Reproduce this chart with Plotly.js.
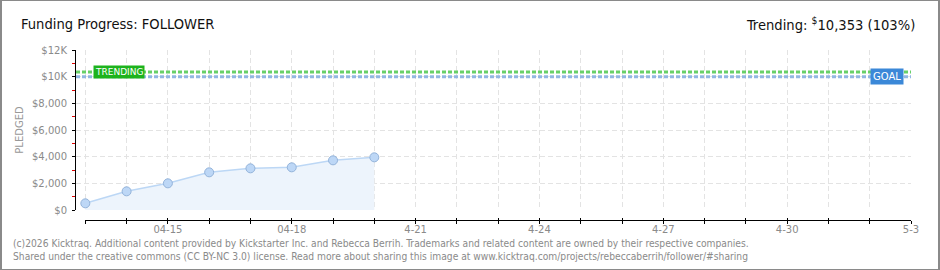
<!DOCTYPE html>
<html>
<head>
<meta charset="utf-8">
<script src="https://cdn.plot.ly/plotly-3.0.1.min.js"></script>
<style>
html,body{margin:0;padding:0;background:#fff;}
#frame{position:absolute;left:0;top:0;width:940px;height:270px;box-sizing:border-box;border:1px solid #8a8a8a;border-left-width:2px;border-right-width:2px;background:#fff;}
#chart{width:936px;height:268px;}
</style>
</head>
<body>
<div id="frame"><div id="chart"></div></div>
<script>
// ---- data ----
const dates = ['2026-04-13','2026-04-14','2026-04-15','2026-04-16','2026-04-17','2026-04-18','2026-04-19','2026-04-20'];
const pledged = [500, 1400, 2000, 2825, 3125, 3200, 3725, 3950];
const goal = 10000;
const trending = 10353;
const trendingPct = 103;
const yTickVals = [0, 2000, 4000, 6000, 8000, 10000, 12000];
const yTickText = ['$0', '$2,000', '$4,000', '$6,000', '$8,000', '$10K', '$12K'];
const xTickVals = ['2026-04-15','2026-04-18','2026-04-21','2026-04-24','2026-04-27','2026-04-30','2026-05-03'];
const xTickText = ['04-15','04-18','4-21','4-24','4-27','4-30','5-3'];
const xStart = '2026-04-13';
const xEnd = '2026-05-03';

const DAY = 86400000;
const FONT = 'DejaVu Sans';
const COND = 'DejaVu Sans Condensed';
const tickFont = {family: FONT, size: 10, color: '#8a8a8a'};

const traces = [
  {
    x: dates, y: pledged, type: 'scatter', mode: 'lines+markers',
    fill: 'tozeroy', fillcolor: '#edf4fc',
    line: {color: '#bcd7f5', width: 1.5},
    marker: {size: 9, color: '#bdd7f6', line: {color: '#93b3da', width: 1}},
    hoverinfo: 'skip', showlegend: false
  },
  {x: [xStart], y: [0], xaxis: 'x2', yaxis: 'y2', mode: 'markers', marker: {opacity: 0}, hoverinfo: 'skip', showlegend: false},
  {x: [xStart], y: [0], xaxis: 'x3', yaxis: 'y2', mode: 'markers', marker: {opacity: 0}, hoverinfo: 'skip', showlegend: false}
];

const gridStyle = {gridcolor: '#e3e3e3', griddash: '5px,3px', gridwidth: 1};

const layout = {
  width: 936, height: 268,
  margin: {l: 74, r: 27, t: 49, b: 49},
  paper_bgcolor: '#ffffff', plot_bgcolor: 'rgba(0,0,0,0)',
  showlegend: false,
  xaxis: Object.assign({
    type: 'date', range: ['2026-04-12 18:35', xEnd],
    showgrid: true, tick0: xStart, dtick: DAY,
    showticklabels: false, ticks: '', showline: false, zeroline: false, fixedrange: true
  }, gridStyle),
  xaxis2: {
    type: 'date', domain: [0.0112, 1], anchor: 'free', position: 0,
    range: [xStart, xEnd], tickmode: 'array', tickvals: xTickVals, ticktext: xTickText,
    ticks: 'outside', ticklen: 3, tickcolor: '#000', tickwidth: 1,
    showline: true, linecolor: '#000', linewidth: 1, showgrid: false, zeroline: false,
    tickfont: tickFont, ticklabelstandoff: -3,
    minor: {tick0: xStart, dtick: DAY, ticks: 'outside', ticklen: 3, tickcolor: '#000', showgrid: false}
  },
  xaxis3: {
    type: 'date', domain: [0.0112, 1], anchor: 'free', position: 0,
    range: [xStart, xEnd], tick0: xStart, dtick: DAY,
    ticks: 'inside', ticklen: 2, tickcolor: '#000', tickwidth: 1,
    showline: false, showgrid: false, showticklabels: false, zeroline: false
  },
  yaxis: Object.assign({
    domain: [0.0588, 1], range: [0, 12000],
    tickmode: 'array', tickvals: yTickVals, ticktext: yTickText,
    ticks: 'outside', ticklen: 3, tickcolor: '#000',
    showline: true, linecolor: '#000', linewidth: 1, zeroline: false,
    showgrid: true, tickfont: tickFont, ticklabelstandoff: 3,
    minor: {dtick: 1000, ticks: 'outside', ticklen: 3, tickcolor: '#e00000', showgrid: false},
    title: {text: 'PLEDGED', font: {family: FONT, size: 10, color: '#999'}, standoff: 6},
    fixedrange: true
  }, gridStyle),
  yaxis2: {domain: [0, 1], range: [0, 1], anchor: 'x2', visible: false, showgrid: false, fixedrange: true},
  shapes: [
    {type: 'line', xref: 'paper', x0: 0, x1: 1, yref: 'y', y0: goal, y1: goal,
     line: {color: '#92b7e2', width: 3, dash: '4px,2px'}},
    {type: 'line', xref: 'paper', x0: 0, x1: 1, yref: 'y', y0: trending, y1: trending,
     line: {color: '#68d068', width: 3, dash: '4px,2px'}}
  ],
  annotations: [
    {xref: 'paper', yref: 'y', x: 0.0204, y: trending, xanchor: 'left', yanchor: 'middle',
     text: 'TRENDING', showarrow: false, bgcolor: '#1db31d', borderpad: 1,
     font: {family: FONT, size: 9, color: '#ffffff'}},
    {xref: 'paper', yref: 'y', x: 0.992, y: goal, xanchor: 'right', yanchor: 'middle',
     text: 'GOAL', showarrow: false, bgcolor: '#3b88d8', borderpad: 2,
     font: {family: FONT, size: 10, color: '#ffffff'}},
    {xref: 'paper', yref: 'paper', x: -0.0685, y: 1.155, xanchor: 'left', yanchor: 'middle',
     text: 'Funding Progress: FOLLOWER', showarrow: false,
     font: {family: COND, size: 14.6, color: '#111'}},
    {xref: 'paper', yref: 'paper', x: 1.0072, y: 1.155, xanchor: 'right', yanchor: 'middle',
     text: 'Trending: <sup>$</sup>' + trending.toLocaleString('en-US') + ' (' + trendingPct + '%)', showarrow: false,
     font: {family: COND, size: 14.6, color: '#111'}},
    {xref: 'paper', yref: 'paper', x: -0.0781, y: -0.1353, xanchor: 'left', yanchor: 'middle',
     text: '(c)2026 Kicktraq. Additional content provided by Kickstarter Inc. and Rebecca Berrih. Trademarks and related content are owned by their respective companies.',
     showarrow: false, font: {family: COND, size: 10.2, color: '#8a8a8a'}},
    {xref: 'paper', yref: 'paper', x: -0.0781, y: -0.2118, xanchor: 'left', yanchor: 'middle',
     text: 'Shared under the creative commons (CC BY-NC 3.0) license. Read more about sharing this image at www.kicktraq.com/projects/rebeccaberrih/follower/#sharing',
     showarrow: false, font: {family: COND, size: 10.2, color: '#8a8a8a'}}
  ]
};

Plotly.newPlot('chart', traces, layout, {displayModeBar: false, staticPlot: true});
</script>
</body>
</html>
